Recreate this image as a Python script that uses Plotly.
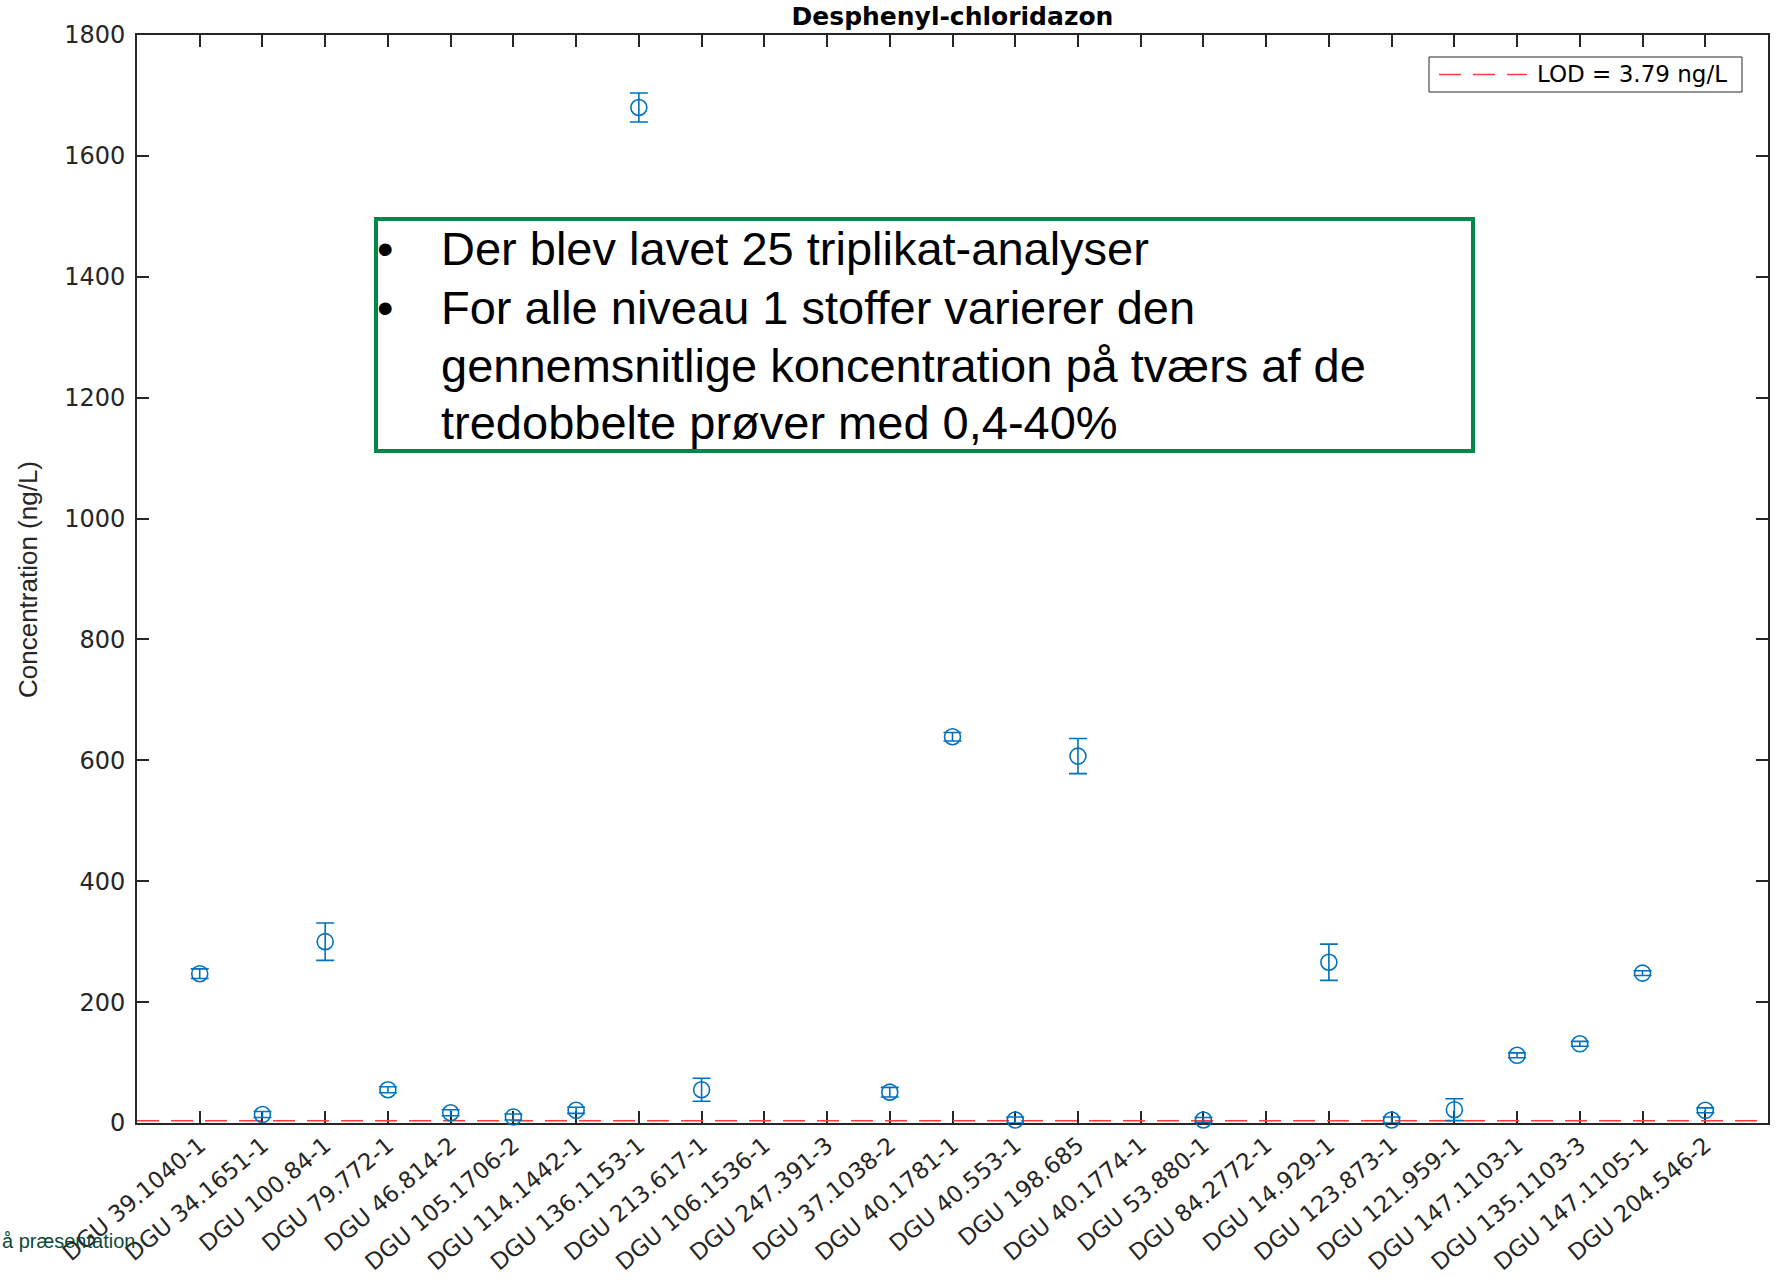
import plotly.graph_objects as go

# ---------------- data ----------------
categories = [
    "DGU 39.1040-1", "DGU 34.1651-1", "DGU 100.84-1", "DGU 79.772-1", "DGU 46.814-2",
    "DGU 105.1706-2", "DGU 114.1442-1", "DGU 136.1153-1", "DGU 213.617-1", "DGU 106.1536-1",
    "DGU 247.391-3", "DGU 37.1038-2", "DGU 40.1781-1", "DGU 40.553-1", "DGU 198.685",
    "DGU 40.1774-1", "DGU 53.880-1", "DGU 84.2772-1", "DGU 14.929-1", "DGU 123.873-1",
    "DGU 121.959-1", "DGU 147.1103-1", "DGU 135.1103-3", "DGU 147.1105-1", "DGU 204.546-2",
]
mean_conc = [247, 14, 300, 55, 17, 10, 21, 1680, 55, None,
             None, 51, 639, 5, 607, None, 5, None, 266, 5,
             22, 112, 131, 248, 21]
err_conc = [8, 5, 31, 5, 5, 5, 5, 24, 19, None,
            None, 8, 7, 5, 29, None, 4, None, 30, 5,
            18, 4, 4, 4, 4]
lod_value = 3.79
lod_label = "LOD = 3.79 ng/L"
y_ticks = [0, 200, 400, 600, 800, 1000, 1200, 1400, 1600, 1800]
note_lines = [
    ("\u2022", "Der blev lavet 25 triplikat-analyser"),
    ("\u2022", "For alle niveau 1 stoffer varierer den"),
    ("", "gennemsnitlige koncentration på tværs af de"),
    ("", "tredobbelte prøver med 0,4-40%"),
]

# ---------------- geometry (pixels) ----------------
W, H = 1777, 1282
L, R, T, B = 137, 1768, 35, 1123
pw, ph = R - L, B - T


def px(x):
    return (x - L) / pw


def py(y):
    return (B - y) / ph


xpos = list(range(1, len(categories) + 1))
axis_col = "#262626"
blue = "#0072BD"
red = "#ff3b3b"

fig = go.Figure()

fig.add_trace(go.Scatter(
    x=[0, len(categories) + 1], y=[lod_value, lod_value],
    mode="lines",
    line=dict(color=red, width=1.5, dash="22px,12px"),
    name=lod_label,
    showlegend=False,
    cliponaxis=False,
))

fig.add_trace(go.Scatter(
    x=xpos, y=mean_conc,
    mode="markers",
    marker=dict(symbol="circle-open", size=16, color=blue, line=dict(width=1.6, color=blue)),
    error_y=dict(type="data", array=err_conc, visible=True, color=blue, thickness=1.6, width=9),
    showlegend=False,
    cliponaxis=False,
))

fig.update_layout(
    width=W, height=H,
    margin=dict(l=L, r=W - R, t=T, b=H - B, autoexpand=False),
    paper_bgcolor="white", plot_bgcolor="white",
    font=dict(family="DejaVu Sans", color=axis_col),
    title=dict(text="<b>Desphenyl-chloridazon</b>", x=0.5, xref="paper",
               y=1 - 16 / H, yref="container", yanchor="middle",
               font=dict(family="DejaVu Sans", size=25, color="black")),
    showlegend=False,
    xaxis=dict(
        range=[0, len(categories) + 1],
        tickmode="array", tickvals=xpos, ticktext=categories,
        tickangle=-40,
        ticks="inside", ticklen=12, tickwidth=1.5, tickcolor=axis_col,
        showline=True, linecolor=axis_col, linewidth=1.8, mirror="ticks",
        showgrid=False, zeroline=False, automargin=False,
        tickfont=dict(family="DejaVu Sans", size=23, color=axis_col),
        ticklabelstandoff=-2,
        layer="below traces",
    ),
    yaxis=dict(
        range=[0, 1800],
        tickmode="array", tickvals=y_ticks,
        ticks="inside", ticklen=12, tickwidth=1.5, tickcolor=axis_col,
        showline=True, linecolor=axis_col, linewidth=1.8, mirror="ticks",
        showgrid=False, zeroline=False, automargin=False,
        tickfont=dict(family="DejaVu Sans", size=24, color=axis_col),
        ticklabelstandoff=5,
        layer="below traces",
    ),
)

# manual legend box (MATLAB style)
fig.add_shape(type="rect", xref="paper", yref="paper",
              x0=px(1429), x1=px(1742), y0=py(92), y1=py(57),
              line=dict(color=axis_col, width=1), fillcolor="white")
fig.add_shape(type="line", xref="paper", yref="paper",
              x0=px(1439), x1=px(1527), y0=py(74.5), y1=py(74.5),
              line=dict(color=red, width=1.3, dash="22px,12px"))
fig.add_annotation(
    text=lod_label, xref="paper", yref="paper", x=px(1535), y=py(74.5),
    xanchor="left", yanchor="middle", showarrow=False,
    font=dict(family="DejaVu Sans", size=23, color="black"),
)

# y-axis label
fig.add_annotation(
    text="Concentration (ng/L)", textangle=-90,
    xref="paper", yref="paper", x=px(28), y=py(580), xanchor="center", yanchor="middle",
    showarrow=False, font=dict(family="Liberation Sans, Arial", size=26, color=axis_col),
)

# footer fragment
fig.add_annotation(
    text="å præsentation",
    xref="paper", yref="paper", x=px(0), y=py(1241), xanchor="left", yanchor="middle",
    showarrow=False, font=dict(family="Liberation Sans, Arial", size=20, color="#0b4a3a"),
)

# text box
fig.add_shape(
    type="rect", xref="paper", yref="paper",
    x0=px(376), x1=px(1473), y0=py(451), y1=py(219),
    line=dict(color="#00884A", width=4), fillcolor="white", layer="above",
)
line_y = [249, 307, 365, 423]
for (bullet, txt), ly in zip(note_lines, line_y):
    if bullet:
        fig.add_annotation(
            text=bullet, xref="paper", yref="paper", x=px(385), y=py(ly),
            xanchor="center", yanchor="middle", showarrow=False,
            font=dict(family="Liberation Sans, Arial", size=47, color="black"),
        )
    fig.add_annotation(
        text=txt, xref="paper", yref="paper", x=px(439), y=py(ly),
        xanchor="left", yanchor="middle", showarrow=False,
        font=dict(family="Liberation Sans, Arial", size=47, color="black"),
    )

fig.write_html("out.html")
